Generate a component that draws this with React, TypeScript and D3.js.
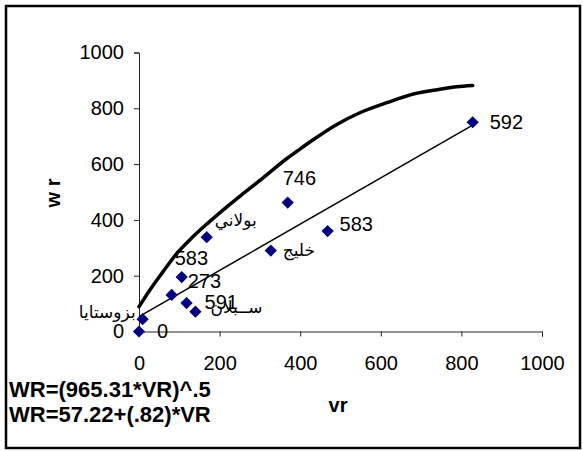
import React, { useEffect, useRef } from 'react'
import * as d3 from 'd3'

// observed points (vr, wr)
const vr = [0, 9, 81, 106, 118, 140, 168, 327, 369, 468, 828]
const wr = [0, 44, 131, 195, 102, 71, 338, 290, 462, 360, 750]
const pointLabels = ['0', 'بزوستايا', '583', '273', '591', 'ســبلان', 'بولاني', 'خليج', '746', '583', '592']

// heavy curve, WR=(965.31*VR)^.5
const curveVr = [0, 27, 60, 94, 127, 168, 218, 259, 308, 367, 391, 433, 491, 548, 615, 681, 747, 788, 828]
const curveWr = [89, 149, 215, 280, 330, 385, 447, 495, 551, 620, 645, 688, 742, 784, 820, 851, 868, 877, 882]

// straight line, WR=57.22+(.82)*VR
const fitVr = [0, 828]
const fitWr = [53, 740]

const xTicks = [0, 200, 400, 600, 800, 1000]
const yTicks = [0, 200, 400, 600, 800, 1000]
const equations = ['WR=(965.31*VR)^.5', 'WR=57.22+(.82)*VR']

// label placement relative to each point (px)
const labelOffsets = [
  [18, -1, 'start'], [-7, -7, 'end'], [3, -37, 'start'], [6, 4, 'start'],
  [18, -1, 'start'], [15, -4, 'start'], [8, -17, 'start'], [12, 0, 'start'],
  [-5, -25, 'start'], [12, -7, 'start'], [17, 0, 'start'],
]

const FONT = 'Liberation Sans, Arial, DejaVu Sans, sans-serif'

export default function App() {
  const ref = useRef<SVGSVGElement>(null)

  useEffect(() => {
    const svg = d3.select(ref.current)
    svg.selectAll('*').remove()

    const x = d3.scaleLinear().domain([0, 1000]).range([139, 542])
    const y = d3.scaleLinear().domain([0, 1000]).range([331.5, 52.5])

    // frame
    svg.append('rect')
      .attr('x', 6).attr('y', 6).attr('width', 574).attr('height', 442)
      .attr('fill', 'white').attr('stroke', 'black').attr('stroke-width', 2.5)

    const yAxis = svg.append('g')
      .attr('transform', `translate(${x(0)},0)`)
      .call(d3.axisLeft(y).tickValues(yTicks).tickSize(5).tickPadding(10).tickFormat(d3.format('d')))
    const xAxis = svg.append('g')
      .attr('transform', `translate(0,${y(0)})`)
      .call(d3.axisBottom(x).tickValues(xTicks).tickSize(5).tickPadding(19).tickFormat(d3.format('d')))

    for (const ax of [xAxis, yAxis]) {
      ax.selectAll('path,line').attr('stroke', '#222').attr('stroke-width', 1)
      ax.selectAll('text').attr('font-family', FONT).attr('font-size', 20).attr('fill', 'black')
    }

    // axis titles
    svg.append('text')
      .attr('transform', 'translate(53,193) rotate(-90)')
      .attr('text-anchor', 'middle').attr('dominant-baseline', 'central')
      .attr('font-family', FONT).attr('font-size', 20).attr('font-weight', 'bold')
      .text('w r')
    svg.append('text')
      .attr('x', 338).attr('y', 405)
      .attr('text-anchor', 'middle').attr('dominant-baseline', 'central')
      .attr('font-family', FONT).attr('font-size', 20).attr('font-weight', 'bold')
      .text('vr')

    const line = d3.line<number>()
      .x(i => x(curveVr[i]))
      .y(i => y(curveWr[i]))
      .curve(d3.curveMonotoneX)
    svg.append('path')
      .attr('d', line(d3.range(curveVr.length)))
      .attr('fill', 'none').attr('stroke', 'black').attr('stroke-width', 3.5)
      .attr('stroke-linejoin', 'round').attr('stroke-linecap', 'round')

    const fit = d3.line<number>()
      .x(i => x(fitVr[i]))
      .y(i => y(fitWr[i]))
    svg.append('path')
      .attr('d', fit(d3.range(fitVr.length)))
      .attr('fill', 'none').attr('stroke', 'black').attr('stroke-width', 1.5)

    // diamonds
    const diamond = d3.symbol(d3.symbolSquare, 75)
    svg.append('g').selectAll('path')
      .data(d3.range(vr.length)).enter().append('path')
        .attr('d', diamond())
        .attr('transform', i => `translate(${x(vr[i])},${y(wr[i])}) rotate(45)`)
        .attr('fill', '#000080')

    // point labels
    svg.append('g').selectAll('text')
      .data(d3.range(vr.length)).enter().append('text')
        .attr('x', i => x(vr[i]) + (labelOffsets[i][0] as number))
        .attr('y', i => y(wr[i]) + (labelOffsets[i][1] as number))
        .attr('text-anchor', i => labelOffsets[i][2] as string)
        .attr('dominant-baseline', 'central')
        .attr('font-family', FONT)
        .attr('font-size', i => /[0-9]/.test(pointLabels[i]) ? 20 : 17)
        .text(i => pointLabels[i])

    // equations
    svg.append('g').selectAll('text')
      .data(equations).enter().append('text')
        .attr('x', 9)
        .attr('y', (d, i) => 397 + i * 25)
        .attr('font-family', FONT).attr('font-size', 22).attr('font-weight', 'bold')
        .text(d => d)
  }, [])

  return (
    <svg ref={ref} width={583} height={451}
      style={{ position: 'absolute', left: 0, top: 0, background: 'white' }} />
  )
}
